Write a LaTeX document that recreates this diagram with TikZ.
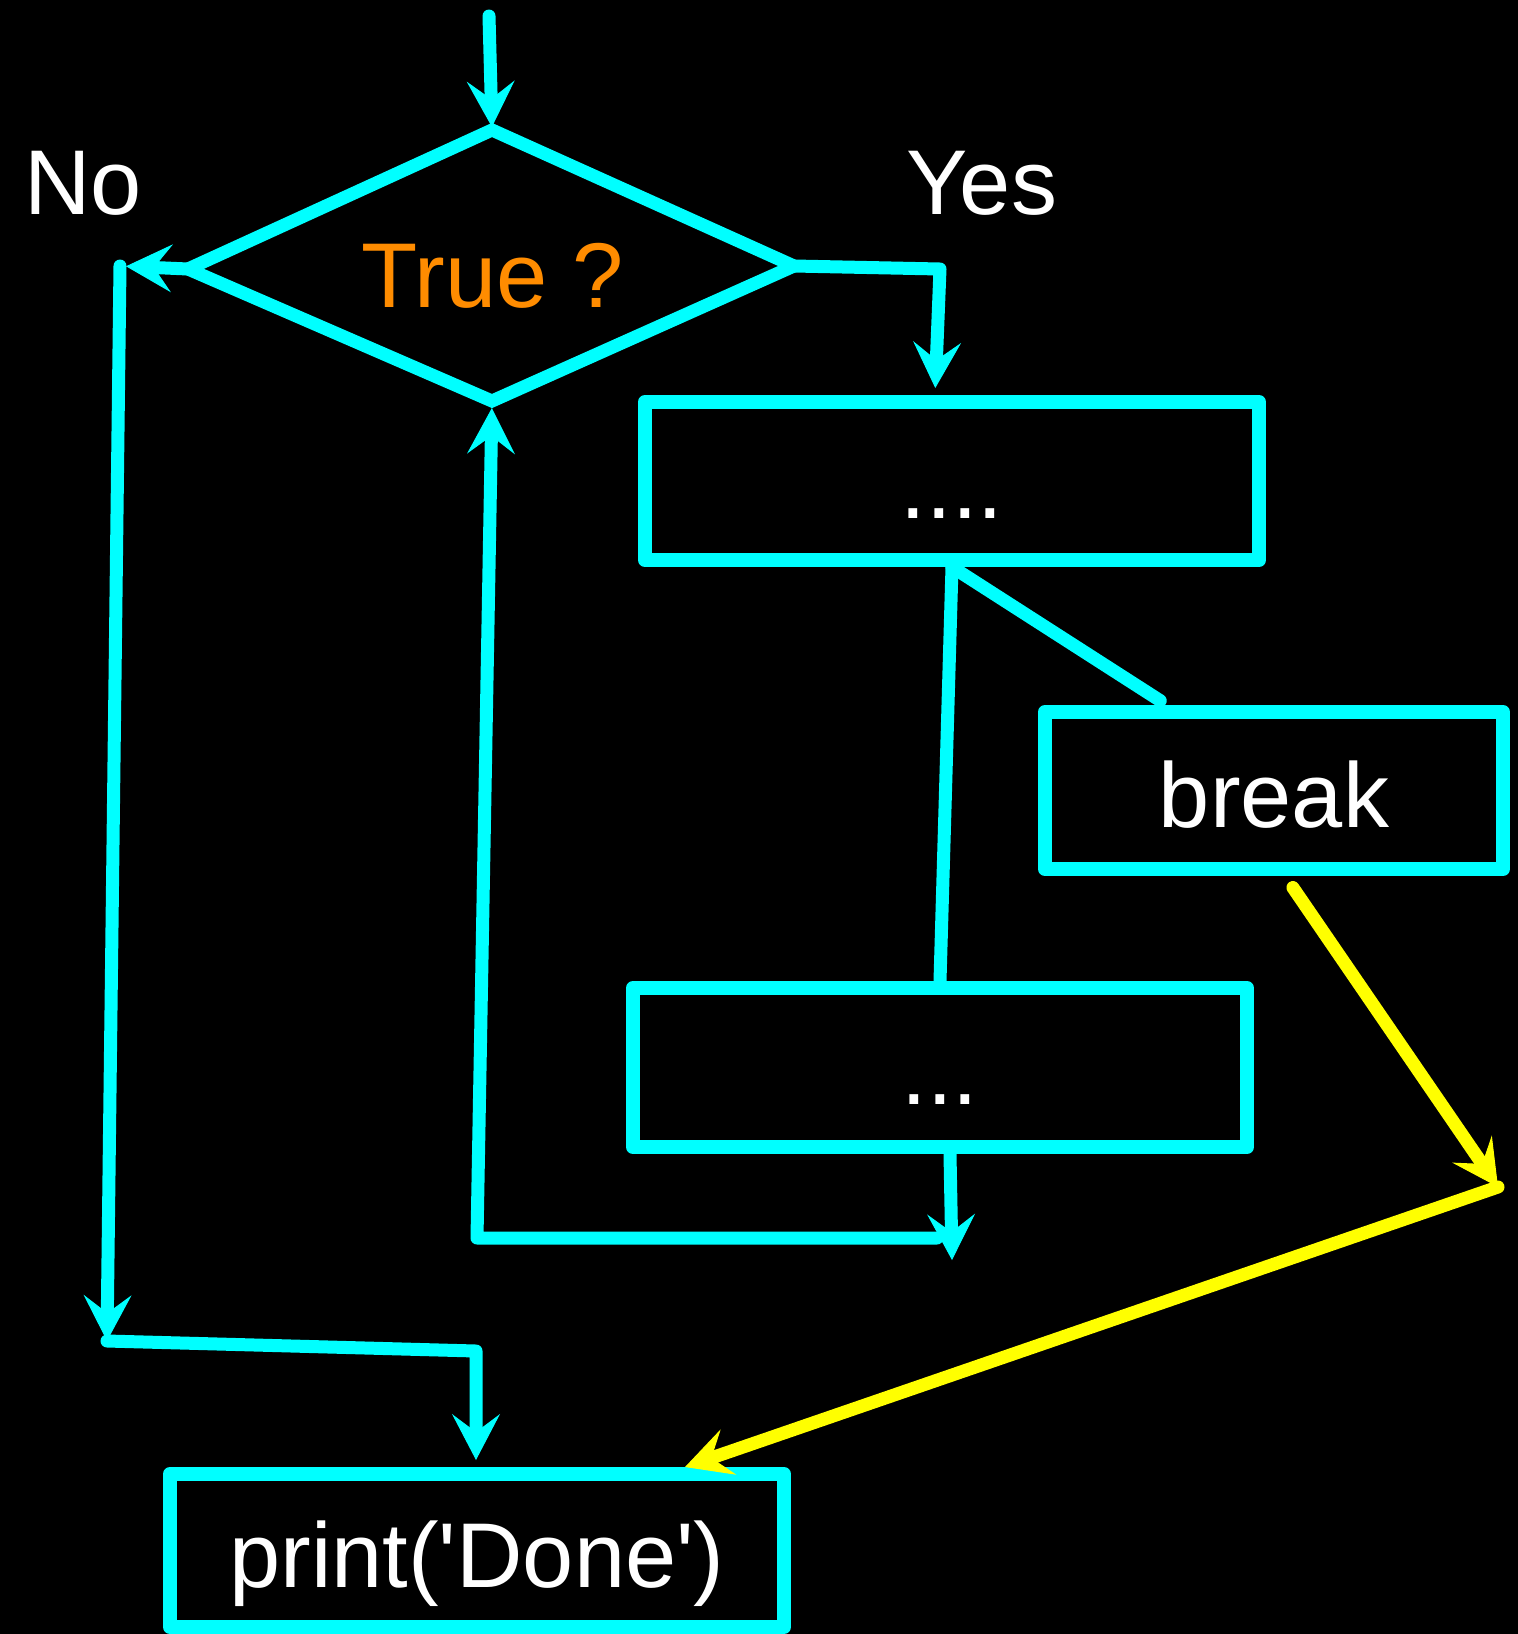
\documentclass[tikz,border=0pt]{standalone}
\usepackage{fontspec}
\setmainfont{Liberation Sans}[Ligatures=TeXOff]
\usetikzlibrary{arrows.meta}
\definecolor{cy}{RGB}{0,255,255}
\definecolor{yl}{RGB}{255,255,0}
\definecolor{org}{RGB}{255,140,0}
\begin{document}
\begin{tikzpicture}[x=1pt,y=-1pt,
  conn/.style={draw=cy, line width=13pt, line cap=round, line join=round},
  yconn/.style={draw=yl, line width=13pt, line cap=round, line join=round},
  arr/.style={-{Stealth[length=46pt,width=48pt,inset=18pt,line width=1pt]}},
  box/.style={draw=cy, line width=14pt, line join=round, inner sep=0pt, text=white, text height=80pt, text depth=6pt, font=\fontsize{92}{110}\selectfont},
  lbl/.style={inner sep=0pt, font=\fontsize{92}{110}\selectfont}]
\fill[black] (0,0) rectangle (1518,1634);
\useasboundingbox (0,0) rectangle (1518,1634);
% decision
\coordinate (dT) at (492,130);
\coordinate (dR) at (794,266);
\coordinate (dB) at (492,401);
\coordinate (dL) at (188,269);
\draw[draw=cy, line width=13pt, line join=miter] (dT) -- (dR) -- (dB) -- (dL) -- cycle;
\node[lbl, text=org, anchor=base] (q) at (493,307) {True ?};
\node[lbl, text=white, anchor=base] (no) at (83,214) {No};
\node[lbl, text=white, anchor=base] (yes) at (982,214) {Yes};
% boxes
\node[box, minimum width=614pt, minimum height=158pt] (b1) at (952,481) {....};
\node[box, minimum width=458pt, minimum height=157pt] (brk) at (1274,790.5) {break};
\node[box, minimum width=614pt, minimum height=159pt] (b3) at (940,1067.5) {...};
\node[box, minimum width=614pt, minimum height=153pt] (prt) at (477,1550.5) {print('Done')};
% entry
\coordinate (in) at (489,16);
\draw[conn,arr,shorten >=3pt] (in) -- (dT);
% yes branch
\coordinate (yc) at (940,269);
\coordinate (yt) at ([xshift=-17pt]b1.north);
\draw[conn,arr,shorten >=7pt] (dR) -- (yc) -- (yt);
% no branch
\coordinate (nl) at (120,266);
\draw[conn,arr,shorten >=6pt] (dL) -- (nl);
\coordinate (lb) at (107,1341);
\draw[conn,arr] (nl) -- (lb);
\coordinate (pc) at (476,1351);
\draw[conn,arr,shorten >=7pt] (lb) -- (pc) -- (pc |- prt.north);
% body
\draw[conn] (b1.south) -- (b3.north);
\draw[conn,shorten >=8pt] (b1.south) -- ([xshift=-107pt]brk.north);
\coordinate (lr) at (952,1260);
\draw[conn,arr] ([xshift=10pt]b3.south) -- (lr);
\coordinate (hr) at (937,1238);
\coordinate (hl) at (477,1238);
\draw[conn,arr,shorten >=7pt] (hr) -- (hl) -- (dB);
% break exit
\coordinate (yk) at (1498,1187);
\draw[yconn,arr,shorten <=14pt] ([xshift=11pt]brk.south) -- (yk);
\coordinate (yp) at ([xshift=208pt]prt.north);
\draw[yconn,arr] (yk) -- (yp);
\end{tikzpicture}
\end{document}
